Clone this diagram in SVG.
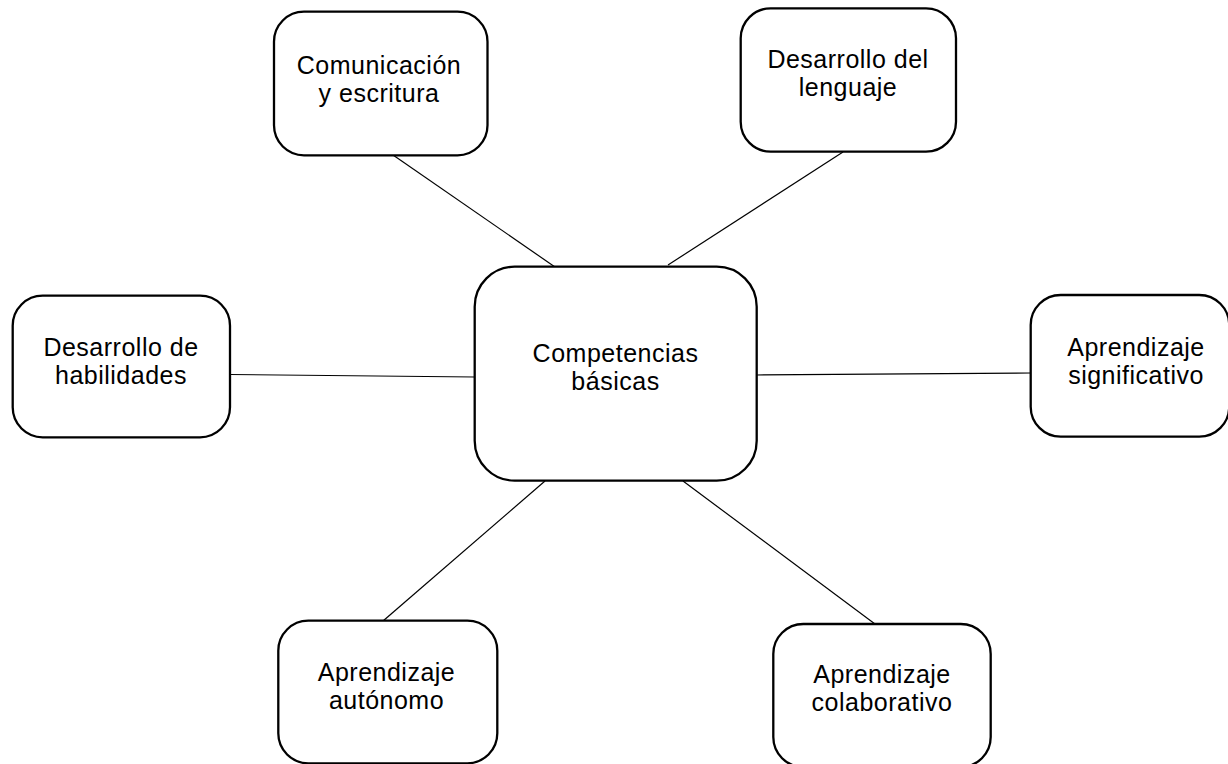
<svg xmlns="http://www.w3.org/2000/svg" width="1228" height="764" viewBox="0 0 1228 764">
<style>
.box{fill:#ffffff;stroke:#000000;stroke-width:2.3}
.lbl{font-family:"Liberation Sans",Arial,sans-serif;font-size:25px;letter-spacing:0.5px;fill:#000000;text-anchor:middle}
.conn line{stroke:#000000;stroke-width:1.2}
</style>
<rect width="1228" height="764" fill="#ffffff"/>
<g id="connectors" class="conn">
<line x1="393" y1="155" x2="555" y2="267"/>
<line x1="843" y1="152" x2="668" y2="265"/>
<line x1="230" y1="374.5" x2="475" y2="377"/>
<line x1="757" y1="375" x2="1031" y2="373"/>
<line x1="545" y1="481" x2="383" y2="621"/>
<line x1="683" y1="481" x2="875" y2="624"/>
</g>
<g id="center">
<rect class="box" x="474.7" y="266.7" width="282" height="214" rx="40" ry="40"/>
<text class="lbl" x="615.5" y="362">Competencias</text>
<text class="lbl" x="615.5" y="390">básicas</text>
</g>
<g id="comunicacion">
<rect class="box" x="274" y="11.7" width="213.5" height="143.6" rx="30" ry="30"/>
<text class="lbl" x="379" y="74">Comunicación</text>
<text class="lbl" x="379" y="102">y escritura</text>
</g>
<g id="desarrollo-lenguaje">
<rect class="box" x="740.7" y="8.3" width="215.3" height="143.4" rx="30" ry="30"/>
<text class="lbl" x="848" y="68">Desarrollo del</text>
<text class="lbl" x="848" y="96">lenguaje</text>
</g>
<g id="desarrollo-habilidades">
<rect class="box" x="12.7" y="295.7" width="217.3" height="141.6" rx="30" ry="30"/>
<text class="lbl" x="121" y="356.3">Desarrollo de</text>
<text class="lbl" x="121" y="384.3">habilidades</text>
</g>
<g id="aprendizaje-significativo">
<rect class="box" x="1030.7" y="295" width="198.5" height="141.7" rx="30" ry="30"/>
<text class="lbl" x="1136" y="355.5">Aprendizaje</text>
<text class="lbl" x="1136" y="383.5">significativo</text>
</g>
<g id="aprendizaje-autonomo">
<rect class="box" x="278.3" y="620.7" width="219" height="142.6" rx="30" ry="30"/>
<text class="lbl" x="386.5" y="680.5">Aprendizaje</text>
<text class="lbl" x="386.5" y="708.5">autónomo</text>
</g>
<g id="aprendizaje-colaborativo">
<rect class="box" x="773.3" y="624" width="217.4" height="143" rx="30" ry="30"/>
<text class="lbl" x="882" y="683.2">Aprendizaje</text>
<text class="lbl" x="882" y="711.2">colaborativo</text>
</g>
</svg>
